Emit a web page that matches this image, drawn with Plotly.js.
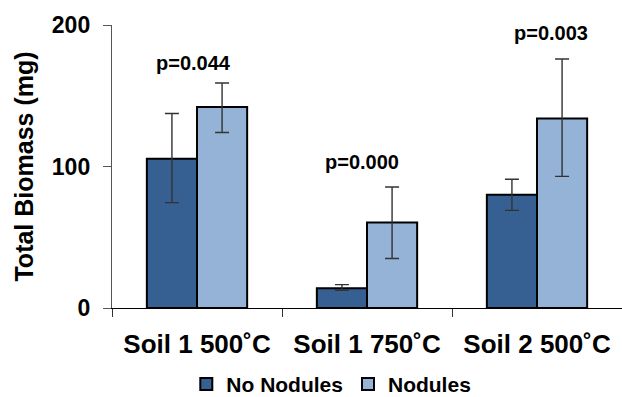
<!DOCTYPE html>
<html>
<head>
<meta charset="utf-8">
<script src="https://cdn.plot.ly/plotly-3.0.1.min.js"></script>
<style>html,body{margin:0;padding:0;background:#fff;}#chart{width:622px;height:397px;}</style>
</head>
<body>
<div id="chart"></div>
<script>
const categories = ["Soil 1 500˚C", "Soil 1 750˚C", "Soil 2 500˚C"];
const noNodules = [105.5, 14, 80];
const noNodulesErrUp = [32, 2.5, 11];
const noNodulesErrDown = [31, 1.5, 11];
const nodules = [142, 60.5, 134];
const nodulesErrUp = [17, 25, 42];
const nodulesErrDown = [18, 25.5, 41];
const pLabels = ["p=0.044", "p=0.000", "p=0.003"];
const pY = [173, 103, 194];
const pXOffset = [-0.02, -0.03, 0.08];

const fontFam = '"Liberation Sans", Arial, sans-serif';

const traces = [
  {
    type: 'bar', name: 'No Nodules', x: categories, y: noNodules,
    marker: {color: '#376092', line: {color: '#000', width: 2}},
    error_y: {type: 'data', symmetric: false, array: noNodulesErrUp, arrayminus: noNodulesErrDown,
              color: '#333', thickness: 1.4, width: 7}
  },
  {
    type: 'bar', name: 'Nodules', x: categories, y: nodules,
    marker: {color: '#95B3D7', line: {color: '#000', width: 2}},
    error_y: {type: 'data', symmetric: false, array: nodulesErrUp, arrayminus: nodulesErrDown,
              color: '#333', thickness: 1.4, width: 7}
  }
];

const annotations = pLabels.map((t, i) => ({
  x: i + pXOffset[i], y: pY[i], xref: 'x', yref: 'y', text: '<b>' + t + '</b>',
  showarrow: false, font: {family: fontFam, size: 20, color: '#000'}
}));

const layout = {
  width: 622, height: 397,
  margin: {l: 112, r: 0, t: 25, b: 89, autoexpand: false},
  paper_bgcolor: '#fff', plot_bgcolor: '#fff',
  barmode: 'group', bargap: 0.41, bargroupgap: 0,
  font: {family: fontFam, color: '#000'},
  xaxis: {
    type: 'category', showline: true, linecolor: '#000', linewidth: 1.2,
    ticks: 'outside', tickson: 'boundaries', ticklen: 8, tickcolor: '#333', tickwidth: 1,
    tickfont: {family: fontFam, size: 26, color: '#000', weight: 'bold'},
    ticklabelstandoff: 13, showgrid: false, zeroline: false, automargin: false,
    range: [-0.5, 2.5]
  },
  yaxis: {
    range: [0, 200], dtick: 100, showline: true, linecolor: '#555', linewidth: 1.2,
    ticks: 'outside', ticklen: 8, tickcolor: '#555', tickwidth: 1,
    tickfont: {family: fontFam, size: 23, color: '#000', weight: 'bold'},
    ticklabelstandoff: 8, showgrid: false, zeroline: false, automargin: false,
    title: {text: '<b>Total Biomass (mg)</b>', font: {family: fontFam, size: 25, color: '#000'}, standoff: 11}
  },
  legend: {
    orientation: 'h', x: 0.43, xanchor: 'center', y: -0.27, yanchor: 'middle',
    font: {family: fontFam, size: 21, color: '#000', weight: 'bold'},
    itemwidth: 30, traceorder: 'normal', tracegroupgap: 0
  },
  annotations: annotations
};

Plotly.newPlot('chart', traces, layout, {displayModeBar: false, staticPlot: true});
</script>
</body>
</html>
